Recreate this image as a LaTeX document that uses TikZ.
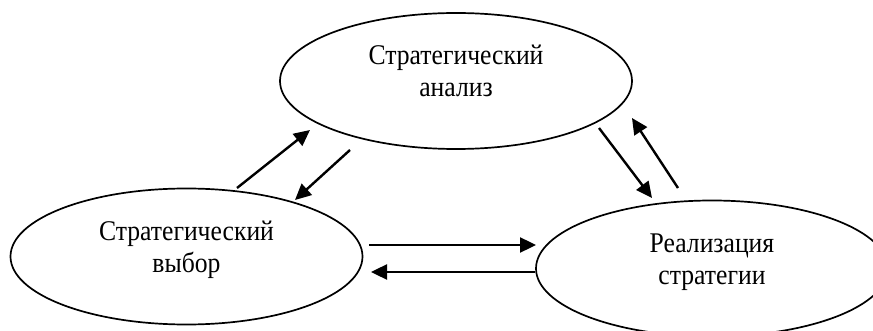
\documentclass[tikz,border=0pt]{standalone}
\usepackage{fontspec}
\setmainfont{Liberation Serif}
\newfontfamily\condserif[FakeStretch=0.9]{Liberation Serif}
\usetikzlibrary{shapes.geometric,arrows.meta}
\newcommand\myTopStrut{\rule{0pt}{25pt}}
\newcommand\myBotStrut{\rule[-25pt]{0pt}{25pt}}
\begin{document}
\begin{tikzpicture}[x=1pt,y=-1pt,
  oval/.style={ellipse,draw,line width=1.7pt,minimum width=352pt,minimum height=136pt,inner sep=0pt,align=center,font=\condserif\fontsize{28.5}{32}\selectfont},
  link/.style={line width=2.4pt,-{Triangle[length=16pt,width=15pt]}}]
\useasboundingbox (0,0) rectangle (873,331);
\clip (0,0) rectangle (873,331);
\node[oval] (an) at (456,81) {\myTopStrut Стратегический\\анализ\myBotStrut};
\node[oval] (vy) at (186.5,256.5) {\myTopStrut Стратегический\\выбор\myBotStrut};
\node[oval] (re) at (712,268.5) {\myTopStrut Реализация\\стратегии\myBotStrut};
\coordinate (a1s) at (237,188); \coordinate (a1e) at (310,130);
\coordinate (a2s) at (350,150); \coordinate (a2e) at (295,200);
\coordinate (a3s) at (369,245); \coordinate (a3e) at (536,245);
\coordinate (a4s) at (535,272); \coordinate (a4e) at (371,272);
\coordinate (a5s) at (599,128); \coordinate (a5e) at (652,198);
\coordinate (a6s) at (678,188); \coordinate (a6e) at (632,118);
\draw[link] (a1s) -- (a1e);
\draw[link] (a2s) -- (a2e);
\draw[link] (a3s) -- (a3e);
\draw[link] (a4s) -- (a4e);
\draw[link] (a5s) -- (a5e);
\draw[link] (a6s) -- (a6e);
\end{tikzpicture}
\end{document}
